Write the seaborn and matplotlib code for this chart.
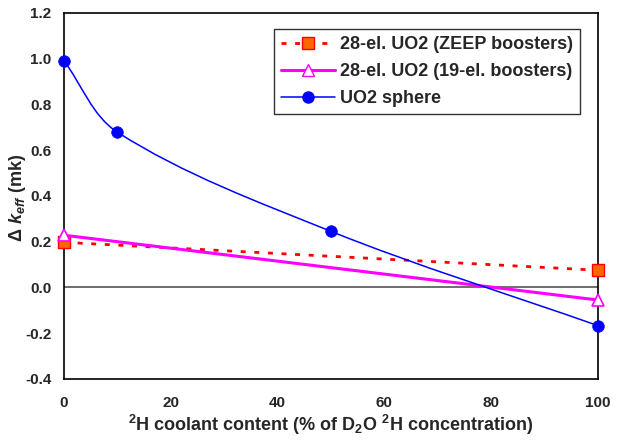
import numpy as np
import pandas as pd
import matplotlib
matplotlib.use("Agg")
import matplotlib.pyplot as plt
from matplotlib.lines import Line2D
from matplotlib.path import Path
from matplotlib.patches import PathPatch
import seaborn as sns

# ---- data ----
x_zeep = [0, 100]
y_zeep = [0.197, 0.075]
x_19el = [0, 100]
y_19el = [0.228, -0.055]
x_sphere = [0, 10, 50, 100]
y_sphere = [0.99, 0.678, 0.245, -0.167]
labels = ["28-el. UO2 (ZEEP boosters)", "28-el. UO2 (19-el. boosters)", "UO2 sphere"]
xticks = [0, 20, 40, 60, 80, 100]
yticks = [-0.4, -0.2, 0.0, 0.2, 0.4, 0.6, 0.8, 1.0, 1.2]

sns.set_style("white")
plt.rcParams["font.family"] = ["Liberation Sans", "DejaVu Sans"]
plt.rcParams["font.weight"] = "bold"
plt.rcParams["mathtext.fontset"] = "custom"
plt.rcParams["mathtext.rm"] = "Liberation Sans:bold"
plt.rcParams["mathtext.it"] = "Liberation Sans:italic:bold"
plt.rcParams["mathtext.bf"] = "Liberation Sans:bold"

fig = plt.figure(figsize=(6.19, 4.41), dpi=100)
ax = fig.add_axes([0.1034, 0.1406, 0.8626, 0.8306])

ax.axhline(0, color="#555555", lw=1.2, zorder=1)

df_z = pd.DataFrame({"x": x_zeep, "y": y_zeep})
df_n = pd.DataFrame({"x": x_19el, "y": y_19el})
df_s = pd.DataFrame({"x": x_sphere, "y": y_sphere})

red = "#FF0000"
mag = "#FF00FF"
blue = "#0000FF"
dash = (0, (1.8, 3.1))

sns.lineplot(data=df_z, x="x", y="y", ax=ax, color=red, lw=2, linestyle=dash,
             marker="s", markersize=8, markerfacecolor="#FF6600", markeredgecolor=red,
             markeredgewidth=1, zorder=3, clip_on=False)
sns.lineplot(data=df_n, x="x", y="y", ax=ax, color=mag, lw=2.2,
             marker="^", markersize=9, markerfacecolor="white", markeredgecolor=mag,
             markeredgewidth=1.2, zorder=3, clip_on=False)

ax.set_xlim(0, 100)
ax.set_ylim(-0.4, 1.2)

# smoothed curve (Excel-like smoothing, chord-scaled tangents in display space)
P = ax.transData.transform(np.column_stack([x_sphere, y_sphere]).astype(float))
n = len(P)
T = []
for i in range(n):
    if i == 0:
        T.append((P[1] - P[0]))
    elif i == n - 1:
        T.append((P[-1] - P[-2]))
    else:
        T.append(P[i + 1] - P[i - 1])
T = [t / np.linalg.norm(t) for t in T]
verts = [P[0]]
codes = [Path.MOVETO]
for i in range(n - 1):
    L = np.linalg.norm(P[i + 1] - P[i])
    c1 = P[i] + T[i] * L / 3.0
    c2 = P[i + 1] - T[i + 1] * L / 3.0
    verts += [c1, c2, P[i + 1]]
    codes += [Path.CURVE4] * 3
verts = ax.transData.inverted().transform(np.array(verts))
ax.add_patch(PathPatch(Path(verts, codes), facecolor="none", edgecolor=blue, lw=1.1, zorder=3))
sns.scatterplot(data=df_s, x="x", y="y", ax=ax, color=blue, s=70, edgecolor=blue,
                linewidth=0.5, zorder=4, clip_on=False)

ax.set_xlim(0, 100)
ax.set_ylim(-0.4, 1.2)
ax.set_xticks(xticks)
ax.set_yticks(yticks)
ax.set_xticklabels([str(t) for t in xticks], fontsize=11, fontweight="bold")
ax.set_yticklabels([f"{t:.1f}" for t in yticks], fontsize=11, fontweight="bold")
ax.tick_params(axis="both", direction="out", length=5, width=1.2, color="black", pad=4)
ax.tick_params(axis="x", pad=7)
for s in ax.spines.values():
    s.set_color("black")
    s.set_linewidth(1.2)

ax.set_xlabel(r"$^{2}$H coolant content (% of D$_{2}$O $^{2}$H concentration)",
              fontsize=13, fontweight="bold", labelpad=2)
ax.set_ylabel(r"$\Delta\ k_{eff}$ (mk)", fontsize=13, fontweight="bold")
ax.yaxis.set_label_coords(-0.068, 0.495)

handles = [
    Line2D([], [], color=red, lw=2, linestyle=dash, marker="s", markersize=8,
           markerfacecolor="#FF6600", markeredgecolor=red),
    Line2D([], [], color=mag, lw=2.2, marker="^", markersize=9, markerfacecolor="white",
           markeredgecolor=mag),
    Line2D([], [], color=blue, lw=1.1, marker="o", markersize=8, markerfacecolor=blue,
           markeredgecolor=blue),
]
leg = ax.legend(handles, labels, loc="upper right", bbox_to_anchor=(0.966, 0.955),
                frameon=True, fancybox=False, shadow=False,
                handlelength=3.0, handletextpad=0.25, borderpad=0.4, labelspacing=0.55,
                borderaxespad=0, prop={"weight": "bold", "size": 13})
leg.get_frame().set_edgecolor("black")
leg.get_frame().set_linewidth(1.0)

fig.savefig("out.png", dpi=100)
